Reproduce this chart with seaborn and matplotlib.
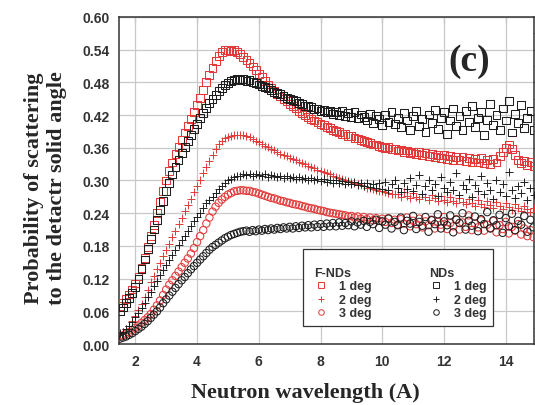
import numpy as np
import pandas as pd
import matplotlib
matplotlib.use("Agg")
import matplotlib.pyplot as plt
from matplotlib.lines import Line2D
from matplotlib.ticker import MultipleLocator, AutoMinorLocator
import seaborn as sns

# wavelength grid (A), step 0.1
wavelength = np.round(np.arange(1.5, 14.95, 0.1), 1)

# F-NDs, 1 deg (red squares)
fnd_1deg = [
    0.070, 0.076, 0.083, 0.091, 0.100, 0.111, 0.124, 0.140, 0.158, 0.178,
    0.198, 0.219, 0.240, 0.261, 0.281, 0.300, 0.317, 0.333, 0.348, 0.362,
    0.375, 0.388, 0.400, 0.412, 0.425, 0.438, 0.452, 0.466, 0.480, 0.494,
    0.507, 0.519, 0.529, 0.535, 0.539, 0.540, 0.538, 0.539, 0.535, 0.532,
    0.527, 0.521, 0.515, 0.509, 0.502, 0.496, 0.489, 0.482, 0.476, 0.470,
    0.465, 0.459, 0.454, 0.449, 0.445, 0.440, 0.436, 0.432, 0.428, 0.424,
    0.420, 0.417, 0.413, 0.410, 0.407, 0.404, 0.401, 0.398, 0.396, 0.393,
    0.391, 0.389, 0.386, 0.385, 0.382, 0.381, 0.378, 0.377, 0.374, 0.373,
    0.370, 0.369, 0.366, 0.366, 0.363, 0.362, 0.360, 0.361, 0.357, 0.358,
    0.355, 0.356, 0.352, 0.355, 0.350, 0.353, 0.348, 0.352, 0.346, 0.350,
    0.345, 0.349, 0.343, 0.347, 0.341, 0.346, 0.340, 0.345, 0.338, 0.343,
    0.337, 0.344, 0.335, 0.342, 0.334, 0.340, 0.333, 0.341, 0.332, 0.338,
    0.331, 0.339, 0.333, 0.345, 0.352, 0.360, 0.366, 0.358, 0.347, 0.338,
    0.332, 0.336, 0.329, 0.334, 0.327,
]

# F-NDs, 2 deg (red +)
fnd_2deg = [
    0.018, 0.022, 0.027, 0.034, 0.042, 0.051, 0.062, 0.074, 0.087, 0.100,
    0.113, 0.125, 0.137, 0.149, 0.161, 0.172, 0.184, 0.196, 0.208, 0.220,
    0.232, 0.244, 0.255, 0.266, 0.278, 0.289, 0.301, 0.313, 0.325, 0.336,
    0.347, 0.357, 0.366, 0.372, 0.377, 0.380, 0.382, 0.384, 0.384, 0.384,
    0.383, 0.381, 0.379, 0.376, 0.373, 0.370, 0.367, 0.364, 0.361, 0.358,
    0.355, 0.352, 0.349, 0.347, 0.344, 0.342, 0.339, 0.337, 0.334, 0.332,
    0.330, 0.327, 0.325, 0.323, 0.320, 0.318, 0.316, 0.313, 0.311, 0.309,
    0.307, 0.305, 0.303, 0.301, 0.299, 0.297, 0.295, 0.293, 0.291, 0.289,
    0.287, 0.286, 0.284, 0.283, 0.281, 0.280, 0.279, 0.277, 0.276, 0.275,
    0.276, 0.270, 0.278, 0.272, 0.268, 0.277, 0.270, 0.266, 0.275, 0.269,
    0.264, 0.274, 0.267, 0.262, 0.272, 0.265, 0.260, 0.270, 0.263, 0.258,
    0.268, 0.261, 0.256, 0.266, 0.259, 0.254, 0.264, 0.257, 0.252, 0.262,
    0.255, 0.250, 0.260, 0.253, 0.247, 0.258, 0.251, 0.246, 0.256, 0.249,
    0.244, 0.254, 0.247, 0.242, 0.250,
]

# F-NDs, 3 deg (red circles)
fnd_3deg = [
    0.014, 0.016, 0.019, 0.022, 0.026, 0.030, 0.034, 0.039, 0.044, 0.049,
    0.055, 0.063, 0.071, 0.080, 0.090, 0.100, 0.109, 0.117, 0.125, 0.133,
    0.141, 0.149, 0.157, 0.166, 0.176, 0.187, 0.198, 0.209, 0.221, 0.232,
    0.243, 0.252, 0.259, 0.265, 0.270, 0.274, 0.277, 0.280, 0.281, 0.282,
    0.282, 0.281, 0.281, 0.279, 0.278, 0.276, 0.274, 0.272, 0.270, 0.268,
    0.267, 0.265, 0.263, 0.262, 0.260, 0.259, 0.257, 0.256, 0.255, 0.253,
    0.252, 0.250, 0.249, 0.248, 0.246, 0.245, 0.244, 0.242, 0.241, 0.240,
    0.239, 0.238, 0.237, 0.236, 0.234, 0.235, 0.232, 0.234, 0.230, 0.233,
    0.229, 0.232, 0.227, 0.231, 0.226, 0.230, 0.224, 0.231, 0.222, 0.228,
    0.219, 0.229, 0.221, 0.232, 0.216, 0.226, 0.220, 0.230, 0.214, 0.225,
    0.218, 0.228, 0.212, 0.224, 0.219, 0.233, 0.211, 0.222, 0.216, 0.229,
    0.210, 0.223, 0.215, 0.236, 0.209, 0.221, 0.214, 0.227, 0.208, 0.219,
    0.213, 0.226, 0.205, 0.218, 0.211, 0.224, 0.203, 0.215, 0.208, 0.220,
    0.201, 0.212, 0.198, 0.209, 0.196,
]

# NDs, 1 deg (black squares)
nd_1deg = [
    0.060, 0.067, 0.075, 0.084, 0.094, 0.105, 0.120, 0.137, 0.155, 0.174,
    0.192, 0.210, 0.228, 0.246, 0.263, 0.280, 0.296, 0.311, 0.325, 0.338,
    0.350, 0.361, 0.372, 0.383, 0.394, 0.404, 0.414, 0.424, 0.433, 0.442,
    0.450, 0.457, 0.464, 0.470, 0.475, 0.479, 0.482, 0.484, 0.486, 0.484,
    0.486, 0.483, 0.484, 0.480, 0.479, 0.476, 0.474, 0.471, 0.469, 0.466,
    0.463, 0.460, 0.458, 0.455, 0.452, 0.450, 0.447, 0.446, 0.442, 0.441,
    0.437, 0.436, 0.434, 0.431, 0.432, 0.428, 0.430, 0.425, 0.428, 0.422,
    0.426, 0.420, 0.427, 0.418, 0.424, 0.416, 0.425, 0.414, 0.421, 0.417,
    0.410, 0.422, 0.406, 0.419, 0.412, 0.402, 0.420, 0.408, 0.426, 0.404,
    0.415, 0.398, 0.424, 0.410, 0.392, 0.418, 0.428, 0.400, 0.413, 0.389,
    0.421, 0.406, 0.430, 0.395, 0.415, 0.426, 0.386, 0.410, 0.432, 0.400,
    0.418, 0.392, 0.427, 0.408, 0.436, 0.398, 0.414, 0.425, 0.384, 0.411,
    0.440, 0.402, 0.420, 0.393, 0.432, 0.410, 0.445, 0.388, 0.422, 0.405,
    0.438, 0.397, 0.415, 0.428, 0.392,
]

# NDs, 2 deg (black +)
nd_2deg = [
    0.020, 0.023, 0.028, 0.034, 0.041, 0.049, 0.057, 0.066, 0.076, 0.086,
    0.096, 0.106, 0.116, 0.126, 0.135, 0.145, 0.154, 0.163, 0.172, 0.181,
    0.190, 0.199, 0.208, 0.217, 0.225, 0.233, 0.241, 0.250, 0.259, 0.265,
    0.270, 0.277, 0.284, 0.290, 0.295, 0.300, 0.303, 0.306, 0.308, 0.309,
    0.311, 0.310, 0.312, 0.309, 0.311, 0.310, 0.308, 0.311, 0.307, 0.310,
    0.308, 0.306, 0.309, 0.305, 0.308, 0.304, 0.307, 0.303, 0.306, 0.302,
    0.305, 0.301, 0.304, 0.300, 0.303, 0.299, 0.302, 0.297, 0.301, 0.296,
    0.300, 0.295, 0.299, 0.294, 0.298, 0.293, 0.297, 0.291, 0.296, 0.290,
    0.295, 0.288, 0.294, 0.286, 0.296, 0.285, 0.298, 0.283, 0.293, 0.300,
    0.287, 0.279, 0.296, 0.284, 0.305, 0.281, 0.292, 0.310, 0.276, 0.289,
    0.300, 0.283, 0.294, 0.271, 0.306, 0.286, 0.278, 0.298, 0.282, 0.314,
    0.274, 0.291, 0.284, 0.303, 0.269, 0.292, 0.280, 0.308, 0.276, 0.296,
    0.283, 0.266, 0.301, 0.279, 0.293, 0.271, 0.315, 0.282, 0.268, 0.290,
    0.277, 0.298, 0.265, 0.286, 0.274,
]

# NDs, 3 deg (black circles)
nd_3deg = [
    0.010, 0.012, 0.014, 0.017, 0.020, 0.024, 0.028, 0.032, 0.037, 0.042,
    0.048, 0.054, 0.060, 0.067, 0.075, 0.082, 0.089, 0.096, 0.103, 0.110,
    0.117, 0.123, 0.130, 0.137, 0.143, 0.149, 0.155, 0.161, 0.167, 0.173,
    0.178, 0.182, 0.186, 0.190, 0.194, 0.197, 0.200, 0.202, 0.204, 0.206,
    0.207, 0.208, 0.206, 0.209, 0.207, 0.210, 0.208, 0.211, 0.209, 0.212,
    0.210, 0.213, 0.211, 0.214, 0.212, 0.215, 0.212, 0.216, 0.213, 0.217,
    0.214, 0.218, 0.214, 0.219, 0.215, 0.220, 0.215, 0.221, 0.216, 0.222,
    0.216, 0.223, 0.217, 0.222, 0.218, 0.225, 0.216, 0.223, 0.219, 0.226,
    0.215, 0.224, 0.220, 0.228, 0.213, 0.225, 0.219, 0.230, 0.212, 0.224,
    0.218, 0.232, 0.209, 0.226, 0.221, 0.235, 0.211, 0.224, 0.217, 0.233,
    0.206, 0.227, 0.220, 0.238, 0.212, 0.225, 0.218, 0.236, 0.205, 0.228,
    0.222, 0.240, 0.210, 0.226, 0.217, 0.234, 0.207, 0.229, 0.220, 0.242,
    0.212, 0.227, 0.218, 0.237, 0.204, 0.231, 0.216, 0.239, 0.209, 0.226,
    0.219, 0.235, 0.206, 0.228, 0.214,
]

RED = "#e23a3a"
BLACK = "#1e1e1e"

series = [
    ("F-NDs", "1 deg", fnd_1deg, RED, "s"),
    ("F-NDs", "2 deg", fnd_2deg, RED, "+"),
    ("F-NDs", "3 deg", fnd_3deg, RED, "o"),
    ("NDs", "1 deg", nd_1deg, BLACK, "s"),
    ("NDs", "2 deg", nd_2deg, BLACK, "+"),
    ("NDs", "3 deg", nd_3deg, BLACK, "o"),
]

sns.set_style("whitegrid")
plt.rcParams["font.family"] = ["Liberation Sans", "DejaVu Sans"]

fig = plt.figure(figsize=(5.35, 4.06), dpi=100)
ax = fig.add_axes([0.2224, 0.150, 0.776, 0.806])

for sample, angle, vals, col, mk in series:
    df = pd.DataFrame({"wl": wavelength, "p": vals})
    if mk == "+":
        sns.scatterplot(data=df, x="wl", y="p", ax=ax, marker="+", color=col,
                        s=32, linewidth=0.7, zorder=3)
    else:
        sns.scatterplot(data=df, x="wl", y="p", ax=ax, marker=mk,
                        s=32 if mk == "s" else 28, facecolor="none",
                        edgecolor=col, linewidth=0.75, zorder=3)

ax.set_xlim(1.47, 14.92)
ax.set_ylim(0, 0.6)
ax.xaxis.set_major_locator(MultipleLocator(2))
ax.xaxis.set_minor_locator(AutoMinorLocator(2))
ax.yaxis.set_major_locator(MultipleLocator(0.06))
ax.yaxis.set_minor_locator(AutoMinorLocator(2))
ax.yaxis.set_major_formatter(plt.FormatStrFormatter("%.2f"))

ax.grid(True, which="major", color="#c9c9c9", linewidth=0.9)
for sp in ax.spines.values():
    sp.set_color("#333333")
    sp.set_linewidth(1.1)

ax.tick_params(axis="both", which="major", labelsize=10, length=4, width=1,
               color="#333333", pad=3)
ax.tick_params(axis="both", which="minor", length=2.5, width=0.8, color="#333333")
ax.tick_params(right=True, which="both", direction="out")
for lab in ax.get_xticklabels() + ax.get_yticklabels():
    lab.set_fontweight("bold")
    lab.set_color("#333333")
# inner ticks along the top
ax.secondary_xaxis("top").tick_params(direction="in", labeltop=False, length=4)

ax.set_xlabel("Neutron wavelength (A)", family="Liberation Serif",
              fontsize=16, fontweight="bold")
ax.xaxis.set_label_coords(0.45, -0.115)
ax.set_ylabel("Probability of scattering\nto the detactr solid angle",
              family="Liberation Serif", fontsize=16, fontweight="bold",
              linespacing=1.2)
ax.yaxis.set_label_coords(-0.125, 0.48)

ax.text(0.843, 0.868, "(c)", transform=ax.transAxes, ha="center", va="center",
        family="Liberation Serif", fontsize=27, fontweight="bold")

# legend with two headed columns
blank = Line2D([], [], linestyle="none")
handles, labels = [], []
for group in ["F-NDs", "NDs"]:
    handles.append(blank)
    labels.append(group)
    for sample, angle, vals, col, mk in series:
        if sample == group:
            handles.append(Line2D([], [], linestyle="none", marker=mk, color=col,
                                  markerfacecolor="none", markersize=4,
                                  markeredgewidth=0.7))
            labels.append(angle)

leg = ax.legend(handles, labels, ncol=2, loc="lower left",
                bbox_to_anchor=(0.427, 0.037), frameon=True, fancybox=False,
                edgecolor="#333333", framealpha=1, borderpad=0.5,
                handlelength=2.0, handletextpad=0.4, columnspacing=4.2,
                labelspacing=0.12, prop={"weight": "bold", "size": 9},
                title=" ", title_fontsize=7)
leg.get_frame().set_linewidth(0.9)
for col_box in leg._legend_handle_box.get_children():
    col_box.get_children()[0].get_children()[0].set_width(0)
for t in leg.get_texts():
    t.set_color("#333333")

fig.savefig("out.png", dpi=100)
